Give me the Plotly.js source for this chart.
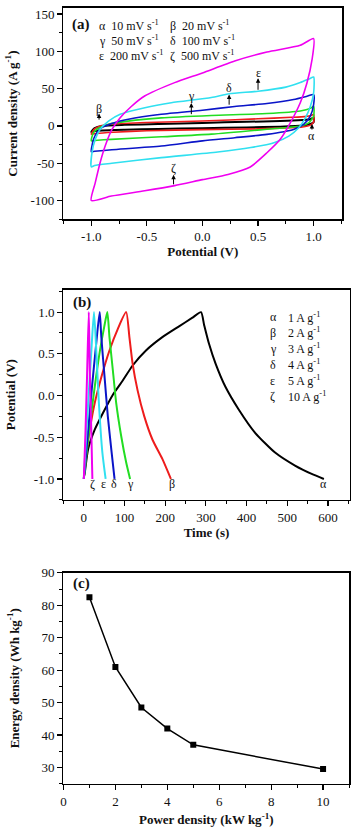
<!DOCTYPE html>
<html>
<head>
<meta charset="utf-8">
<script src="https://cdn.plot.ly/plotly-3.0.1.min.js"></script>
<style>html,body{margin:0;padding:0;background:#fff;}#chart{width:352px;height:830px;}</style>
</head>
<body>
<div id="chart"></div>
<script>
// ---------- Panel (a): cyclic voltammetry ----------
const cvPotAlpha = [-1, -0.97, -0.9, -0.7, -0.4, 0, 0.4, 0.7, 0.9, 0.97, 1.0, 1.0, 0.97, 0.9, 0.7, 0.4, 0, -0.4, -0.7, -0.9, -0.97, -1.0];
const cvCurAlpha = [-8, -3, 0, 1.5, 2.5, 4, 5.5, 6.5, 8, 9, 11, 5, 2.5, 0.5, -1, -2, -3, -4, -5, -6, -7, -8];
const cvPotBeta = [-1, -0.97, -0.92, -0.8, -0.5, 0, 0.5, 0.8, 0.92, 0.98, 1.0, 1.0, 0.97, 0.9, 0.8, 0.5, 0, -0.5, -0.8, -0.95, -1.0];
const cvCurBeta = [-11, -4, 0, 2.5, 4.5, 6.5, 9.5, 11.5, 12.5, 14, 15.5, 5, 1, -1.5, -2.5, -4, -5, -6.5, -8.5, -10, -11];
const cvPotGamma = [-1, -0.98, -0.93, -0.85, -0.67, -0.37, 0.08, 0.58, 0.88, 0.97, 1.0, 1.0, 0.955, 0.88, 0.58, 0.08, -0.37, -0.82, -0.97, -1];
const cvCurGamma = [-20, -9, -2.4, 2, 6.4, 10.8, 14, 16.6, 20, 23.5, 26.4, 13, 4, 0, -4.4, -11, -14.6, -18, -19.5, -20];
const cvPotDelta = [-1, -0.994, -0.98, -0.95, -0.905, -0.815, -0.666, -0.37, 0.0, 0.29, 0.58, 0.82, 0.94, 1.0, 1.0, 0.97, 0.91, 0.82, 0.58, 0.29, 0.0, -0.37, -0.815, -0.97, -1];
const cvCurDelta = [-34.5, -27, -18, -9, -2.4, 3.3, 8.9, 15.6, 21, 26, 30, 35.3, 39.7, 42, 28.4, 13, 2, -4.7, -11.3, -15.8, -20, -27, -32, -34, -34.5];
const cvPotEps = [-1, -0.994, -0.964, -0.92, -0.845, -0.74, -0.518, -0.28, 0.08, 0.24, 0.5, 0.75, 0.88, 0.96, 1.0, 1.0, 0.97, 0.926, 0.866, 0.777, 0.643, 0.435, 0.137, -0.37, -0.815, -0.97, -1];
const cvCurEps = [-55, -36, -18, -4.4, 6.4, 15.6, 24.4, 31, 38, 43, 46.5, 52, 58, 63, 65.5, 44, 26, 10.8, -2.4, -13.6, -22.5, -29, -35, -42.5, -50, -53, -55];
const cvPotZeta = [-1, -0.964, -0.92, -0.875, -0.815, -0.74, -0.64, -0.52, -0.25, 0.0, 0.29, 0.58, 0.88, 1.0, 0.986, 0.94, 0.88, 0.79, 0.70, 0.58, 0.43, 0.23, 0.0, -0.25, -0.52, -0.82, -1];
const cvCurZeta = [-100, -76, -49, -27, -5, 11, 26, 40, 58, 71, 87, 99, 108, 117, 89, 57.5, 31, 4, -18, -36, -55, -65, -72, -80, -87, -94, -100];

const cvLegendLetters = ['α', 'β', 'γ', 'δ', 'ε', 'ζ'];
const cvLegendRates = ['10 mV s<sup>-1</sup>', '20 mV s<sup>-1</sup>', '50 mV s<sup>-1</sup>', '100 mV s<sup>-1</sup>', '200 mV s<sup>-1</sup>', '500 mV s<sup>-1</sup>'];

// ---------- Panel (b): galvanostatic charge/discharge ----------
const gcdTimeAlpha = [0, 2.4, 10.5, 26.8, 47, 71.4, 95.7, 120, 152.7, 193, 234, 266, 288, 295.5, 307.7, 324, 348, 381, 421, 470, 519, 560, 590];
const gcdVoltAlpha = [-0.97, -0.92, -0.645, -0.41, -0.21, 0.01, 0.18, 0.36, 0.54, 0.70, 0.83, 0.93, 1.0, 0.85, 0.62, 0.38, 0.105, -0.17, -0.447, -0.684, -0.84, -0.94, -1.0];
const gcdTimeBeta = [0, 6.5, 14.6, 26.8, 43, 63, 83.6, 104, 112, 120, 132, 148.6, 168.8, 193, 214];
const gcdVoltBeta = [-1.0, -0.68, -0.41, -0.09, 0.22, 0.54, 0.80, 1.0, 0.70, 0.38, 0.065, -0.25, -0.53, -0.76, -1.0];
const gcdTimeGamma = [0, 10, 20, 30, 40, 50, 57.7, 63, 71.4, 79.6, 91.8, 104, 113.7];
const gcdVoltGamma = [-1.0, -0.55, -0.15, 0.22, 0.55, 0.82, 1.0, 0.70, 0.30, -0.09, -0.485, -0.80, -1.0];
const gcdTimeDelta = [0, 10, 20, 30, 39, 43, 51, 59, 67.5, 75.5];
const gcdVoltDelta = [-1.0, -0.45, 0.1, 0.6, 1.0, 0.70, 0.22, -0.25, -0.645, -1.0];
const gcdTimeEps = [0, 5, 10.5, 18.7, 25, 31, 37, 45.5, 53.6];
const gcdVoltEps = [-1.0, -0.55, -0.1, 0.55, 1.0, 0.50, -0.09, -0.68, -1.0];
const gcdTimeZeta = [0, 4, 8, 12.2, 14.6, 18.7, 21];
const gcdVoltZeta = [-1.0, -0.45, 0.25, 1.0, 0.30, -0.49, -1.0];

const gcdLegendLetters = ['α', 'β', 'γ', 'δ', 'ε', 'ζ'];
const gcdLegendCurrents = ['1 A g<sup>-1</sup>', '2 A g<sup>-1</sup>', '3 A g<sup>-1</sup>', '4 A g<sup>-1</sup>', '5 A g<sup>-1</sup>', '10 A g<sup>-1</sup>'];
const gcdEndTimes = [588, 216, 113.7, 74, 49, 21];

// ---------- Panel (c): Ragone plot ----------
const powerDensity = [1, 2, 3, 4, 5, 10];
const energyDensity = [82.5, 61, 48.5, 42, 37, 29.5];

// ---------- Tick labels ----------
const aXTicks = [-1, -0.5, 0, 0.5, 1];
const aXTickText = ['-1.0', '-0.5', '0.0', '0.5', '1.0'];
const aYTicks = [-100, -50, 0, 50, 100, 150];
const aYTickText = ['-100', '-50', '0', '50', '100', '150'];
const bXTicks = [0, 100, 200, 300, 400, 500, 600];
const bXTickText = ['0', '100', '200', '300', '400', '500', '600'];
const bYTicks = [-1, -0.5, 0, 0.5, 1];
const bYTickText = ['-1.0', '-0.5', '0.0', '0.5', '1.0'];
const cXTicks = [0, 2, 4, 6, 8, 10];
const cXTickText = ['0', '2', '4', '6', '8', '10'];
const cYTicks = [30, 40, 50, 60, 70, 80, 90];
const cYTickText = ['30', '40', '50', '60', '70', '80', '90'];

const SERIF = '"Liberation Serif", "Times New Roman", serif';
const COL = {alpha: '#000000', beta: '#ee1c1c', gamma: '#22dd22', delta: '#0a14c8', eps: '#30e0f0', zeta: '#f000f0'};

function line(x, y, color, xa, ya, w) {
  return {x: x, y: y, type: 'scatter', mode: 'lines', xaxis: xa, yaxis: ya,
    line: {color: color, width: w, shape: 'spline', smoothing: 0.6}, hoverinfo: 'skip', showlegend: false};
}

const data = [
  line(cvPotAlpha, cvCurAlpha, COL.alpha, 'x', 'y', 2),
  line(cvPotBeta, cvCurBeta, COL.beta, 'x', 'y', 1.6),
  line(cvPotGamma, cvCurGamma, COL.gamma, 'x', 'y', 1.6),
  line(cvPotDelta, cvCurDelta, COL.delta, 'x', 'y', 1.6),
  line(cvPotEps, cvCurEps, COL.eps, 'x', 'y', 1.6),
  line(cvPotZeta, cvCurZeta, COL.zeta, 'x', 'y', 1.6),
  line(gcdTimeAlpha, gcdVoltAlpha, COL.alpha, 'x2', 'y2', 2),
  line(gcdTimeBeta, gcdVoltBeta, COL.beta, 'x2', 'y2', 2),
  line(gcdTimeGamma, gcdVoltGamma, COL.gamma, 'x2', 'y2', 2),
  line(gcdTimeDelta, gcdVoltDelta, COL.delta, 'x2', 'y2', 2),
  line(gcdTimeEps, gcdVoltEps, COL.eps, 'x2', 'y2', 2),
  line(gcdTimeZeta, gcdVoltZeta, COL.zeta, 'x2', 'y2', 2),
  {x: powerDensity, y: energyDensity, type: 'scatter', mode: 'lines+markers', xaxis: 'x3', yaxis: 'y3',
    line: {color: '#000', width: 1.5}, marker: {symbol: 'square', size: 6, color: '#000'}, hoverinfo: 'skip', showlegend: false}
];

function axis(extra) {
  return Object.assign({
    showline: true, linecolor: '#000', linewidth: 1.5, mirror: true,
    ticks: 'outside', ticklen: 5, tickwidth: 1.2, tickcolor: '#000',
    showgrid: false, zeroline: false, tickmode: 'array',
    tickfont: {family: SERIF, size: 13, color: '#111'},
    automargin: true
  }, extra);
}
function ttl(text, standoff) {
  return {text: '<b>' + text + '</b>', font: {family: SERIF, size: 13, color: '#111'}, standoff: standoff};
}
function minor(t0, dt) {
  return {ticks: 'outside', ticklen: 3, tickwidth: 1, tickcolor: '#000', tickmode: 'linear', tick0: t0, dtick: dt};
}

const W = 352, H = 830;
const layout = {
  width: W, height: H, margin: {l: 0, r: 0, t: 0, b: 0},
  paper_bgcolor: '#fff', plot_bgcolor: '#fff', showlegend: false,
  xaxis: axis({domain: [61 / W, 342 / W], range: [-1.25, 1.256], tickvals: aXTicks, ticktext: aXTickText,
    minor: minor(-1.25, 0.25), anchor: 'y', title: ttl('Potential (V)', 0)}),
  yaxis: axis({domain: [1 - 214 / H, 1 - 1 / H], range: [-125, 158], tickvals: aYTicks, ticktext: aYTickText,
    minor: minor(-125, 25), anchor: 'x', title: ttl('Current density (A g<sup>-1</sup>)', 10)}),
  xaxis2: axis({domain: [61 / W, 349.5 / W], range: [-50, 653], tickvals: bXTicks, ticktext: bXTickText,
    minor: minor(-50, 50), anchor: 'y2', title: ttl('Time (s)', 2)}),
  yaxis2: axis({domain: [1 - 497 / H, 1 - 285 / H], range: [-1.25, 1.27], tickvals: bYTicks, ticktext: bYTickText,
    minor: minor(-1.25, 0.25), anchor: 'x2', title: ttl('Potential (V)', 15)}),
  xaxis3: axis({domain: [61 / W, 349 / W], range: [0, 11], tickvals: cXTicks, ticktext: cXTickText,
    minor: minor(0, 1), anchor: 'y3', title: ttl('Power density (kW kg<sup>-1</sup>)', 7)}),
  yaxis3: axis({domain: [1 - 783.3 / H, 1 - 570.7 / H], range: [25, 90], tickvals: cYTicks, ticktext: cYTickText,
    minor: minor(25, 5), anchor: 'x3', title: ttl('Energy density (Wh kg<sup>-1</sup>)', 19)}),
  annotations: []
};

const ann = layout.annotations;
const TXT = {family: SERIF, size: 12, color: '#111'};
function label(xref, yref, x, y, text, opts) {
  ann.push(Object.assign({xref: xref, yref: yref, x: x, y: y, text: text, showarrow: false,
    font: TXT, xanchor: 'center', yanchor: 'middle'}, opts || {}));
}
function arrow(x, y, ax, ay) {
  ann.push({xref: 'x', yref: 'y', axref: 'x', ayref: 'y', x: x, y: y, ax: ax, ay: ay, text: '',
    showarrow: true, arrowhead: 2, arrowsize: 0.9, arrowwidth: 1, arrowcolor: '#000', standoff: 0, startstandoff: 0});
}

// panel labels
label('x domain', 'y domain', 0.025, 1 - 17 / 213, '<b>(a)</b>', {xanchor: 'left', font: {family: SERIF, size: 15, color: '#111'}});
label('x2 domain', 'y2 domain', 0.025, 1 - 13 / 212, '<b>(b)</b>', {xanchor: 'left', font: {family: SERIF, size: 15, color: '#111'}});
label('x3 domain', 'y3 domain', 0.025, 1 - 11 / 212.6, '<b>(c)</b>', {xanchor: 'left', font: {family: SERIF, size: 15, color: '#111'}});

// panel (a) legend text (three rows, two columns)
const aRowY = [135, 115, 94];
const aColX = [-0.95, -0.31];
for (let i = 0; i < 6; i++) {
  const r = Math.floor(i / 2), c = i % 2;
  label('x', 'y', aColX[c], aRowY[r], cvLegendLetters[i] + '\u00a0\u00a0' + cvLegendRates[i], {xanchor: 'left'});
}

// panel (a) curve markers with arrows
label('x', 'y', 0.985, -13, 'α'); arrow(0.985, 2.4, 0.985, -6.9);
label('x', 'y', -0.93, 22, 'β'); arrow(-0.93, 16.6, -0.93, 6.4);
label('x', 'y', -0.1, 40, 'γ'); arrow(-0.1, 30.8, -0.1, 13.7);
label('x', 'y', 0.24, 51, 'δ'); arrow(0.24, 42, 0.24, 26.4);
label('x', 'y', 0.5, 71, 'ε'); arrow(0.5, 64, 0.5, 46.4);
label('x', 'y', -0.26, -57, 'ζ'); arrow(-0.26, -65.5, -0.26, -80.3);

// panel (b) legend
const bRowY = [0.94, 0.75, 0.56, 0.37, 0.18, -0.01];
for (let i = 0; i < 6; i++) {
  label('x2', 'y2', 453, bRowY[i], gcdLegendLetters[i], {xanchor: 'left'});
  label('x2', 'y2', 497, bRowY[i], gcdLegendCurrents[i], {xanchor: 'left'});
}
// panel (b) curve end labels
for (let i = 0; i < 6; i++) {
  label('x2', 'y2', gcdEndTimes[i], -1.06, gcdLegendLetters[i]);
}

Plotly.newPlot('chart', data, layout, {staticPlot: true, displayModeBar: false});
</script>
</body>
</html>
